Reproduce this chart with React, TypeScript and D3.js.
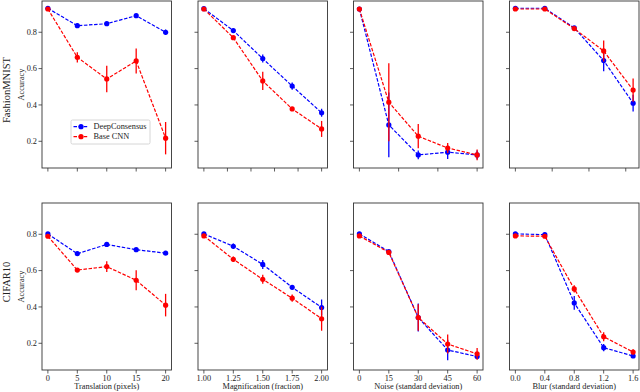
import React from "react";
import * as d3 from "d3";

// ---------- data ----------
const translationX = [0, 5, 10, 15, 20];
const magnificationX = [1.0, 1.25, 1.5, 1.75, 2.0];
const noiseX = [0, 15, 30, 45, 60];
const blurX = [0.0, 0.4, 0.8, 1.2, 1.6];

const seriesNames = ["DeepConsensus", "Base CNN"];
const datasetNames = ["FashionMNIST", "CIFAR10"];
const xLabels = ["Translation (pixels)", "Magnification (fraction)", "Noise (standard deviation)", "Blur (standard deviation)"];

// FashionMNIST
const fmTransDC = [0.932, 0.836, 0.847, 0.891, 0.8];
const fmTransDCErr = [0.006, 0.012, 0.01, 0.008, 0.015];
const fmTransCNN = [0.928, 0.662, 0.543, 0.642, 0.217];
const fmTransCNNErr = [0.006, 0.028, 0.073, 0.069, 0.089];
const fmMagDC = [0.93, 0.809, 0.655, 0.504, 0.357];
const fmMagDCErr = [0.005, 0.01, 0.022, 0.02, 0.022];
const fmMagCNN = [0.928, 0.77, 0.532, 0.378, 0.268];
const fmMagCNNErr = [0.005, 0.01, 0.05, 0.01, 0.044];
const fmNoiseDC = [0.928, 0.29, 0.125, 0.14, 0.125];
const fmNoiseDCErr = [0.005, 0.178, 0.024, 0.037, 0.024];
const fmNoiseCNN = [0.928, 0.415, 0.228, 0.163, 0.125];
const fmNoiseCNNErr = [0.005, 0.215, 0.067, 0.028, 0.03];
const fmBlurDC = [0.932, 0.932, 0.824, 0.644, 0.41];
const fmBlurDCErr = [0.004, 0.004, 0.01, 0.058, 0.046];
const fmBlurCNN = [0.928, 0.928, 0.82, 0.697, 0.482];
const fmBlurCNNErr = [0.004, 0.004, 0.012, 0.058, 0.064];

// CIFAR10
const cfTransDC = [0.802, 0.693, 0.744, 0.715, 0.696];
const cfTransDCErr = [0.006, 0.012, 0.008, 0.008, 0.006];
const cfTransCNN = [0.789, 0.603, 0.622, 0.547, 0.41];
const cfTransCNNErr = [0.006, 0.01, 0.03, 0.055, 0.062];
const cfMagDC = [0.802, 0.734, 0.634, 0.508, 0.397];
const cfMagDCErr = [0.006, 0.015, 0.025, 0.012, 0.044];
const cfMagCNN = [0.791, 0.662, 0.552, 0.448, 0.335];
const cfMagCNNErr = [0.006, 0.015, 0.025, 0.02, 0.066];
const cfNoiseDC = [0.802, 0.705, 0.342, 0.163, 0.127];
const cfNoiseDCErr = [0.005, 0.008, 0.077, 0.057, 0.01];
const cfNoiseCNN = [0.791, 0.7, 0.342, 0.196, 0.142];
const cfNoiseCNNErr = [0.005, 0.008, 0.073, 0.052, 0.032];
const cfBlurDC = [0.802, 0.798, 0.422, 0.176, 0.13];
const cfBlurDCErr = [0.005, 0.005, 0.038, 0.02, 0.01];
const cfBlurCNN = [0.791, 0.789, 0.499, 0.236, 0.152];
const cfBlurCNNErr = [0.005, 0.005, 0.02, 0.025, 0.015];

// ticks
const yTicks = [0.2, 0.4, 0.6, 0.8];
const topTicks = [
  [0, 5, 10, 15, 20],
  [1.0, 1.2, 1.4, 1.6, 1.8, 2.0],
  [0, 20, 40, 60],
  [0, 0.5, 1.0, 1.5],
];
const bottomTickLabels = [
  ["0", "5", "10", "15", "20"],
  ["1.00", "1.25", "1.50", "1.75", "2.00"],
  ["0", "15", "30", "45", "60"],
  ["0.0", "0.4", "0.8", "1.2", "1.6"],
];

const xs = [translationX, magnificationX, noiseX, blurX];
const xDomains: [number, number][] = [[-1, 21], [0.95, 2.05], [-3, 63], [-0.08, 1.68]];
const yDomain: [number, number] = [0.053, 0.972];

const rows = [
  [
    [[fmTransDC, fmTransDCErr], [fmTransCNN, fmTransCNNErr]],
    [[fmMagDC, fmMagDCErr], [fmMagCNN, fmMagCNNErr]],
    [[fmNoiseDC, fmNoiseDCErr], [fmNoiseCNN, fmNoiseCNNErr]],
    [[fmBlurDC, fmBlurDCErr], [fmBlurCNN, fmBlurCNNErr]],
  ],
  [
    [[cfTransDC, cfTransDCErr], [cfTransCNN, cfTransCNNErr]],
    [[cfMagDC, cfMagDCErr], [cfMagCNN, cfMagCNNErr]],
    [[cfNoiseDC, cfNoiseDCErr], [cfNoiseCNN, cfNoiseCNNErr]],
    [[cfBlurDC, cfBlurDCErr], [cfBlurCNN, cfBlurCNNErr]],
  ],
];

// ---------- layout ----------
const W = 640;
const H = 392;
const colors = ["#0000ff", "#ff0000"];
const FONT = "'Liberation Serif', 'Times New Roman', serif";
const panelLefts = [42, 198, 353.5, 509.5];
const panelW = 129.5;
const rowTops = [1, 203];
const panelH = 167;
const frame = "#333333";

function Panel({ r, c }: { r: number; c: number }) {
  const x0 = panelLefts[c];
  const y0 = rowTops[r];
  const x = d3.scaleLinear().domain(xDomains[c]).range([x0, x0 + panelW]);
  const y = d3.scaleLinear().domain(yDomain).range([y0 + panelH, y0]);
  const xv = xs[c];
  const series = rows[r][c];
  const line = d3
    .line<number>()
    .x((_, i) => x(xv[i]))
    .y((d) => y(d));
  const ticksX = r === 0 ? topTicks[c] : xv;
  const yb = y0 + panelH;
  return (
    <g>
      {/* ticks */}
      {ticksX.map((t, i) => (
        <g key={"xt" + i}>
          <line x1={x(t)} x2={x(t)} y1={yb} y2={yb + 3.5} stroke={frame} strokeWidth={0.8} />
          {r === 1 && (
            <text x={x(t)} y={yb + 11} textAnchor="middle" fontSize={8.3} fontFamily={FONT} fill="#222">
              {bottomTickLabels[c][i]}
            </text>
          )}
        </g>
      ))}
      {yTicks.map((t, i) => (
        <g key={"yt" + i}>
          <line x1={x0 - 3.5} x2={x0} y1={y(t)} y2={y(t)} stroke={frame} strokeWidth={0.8} />
          {c === 0 && (
            <text x={x0 - 5} y={y(t)} dy="0.33em" textAnchor="end" fontSize={8.3} fontFamily={FONT} fill="#222">
              {d3.format(".1f")(t)}
            </text>
          )}
        </g>
      ))}
      {/* series */}
      {series.map(([vals, errs], s) => (
        <g key={"s" + s}>
          <path d={line(vals) || ""} fill="none" stroke={colors[s]} strokeWidth={1.2} strokeDasharray="3.5,1.6" />
          {vals.map((v, i) => (
            <line
              key={"e" + i}
              x1={x(xv[i])}
              x2={x(xv[i])}
              y1={y(v - errs[i])}
              y2={y(v + errs[i])}
              stroke={colors[s]}
              strokeWidth={1.3}
            />
          ))}
          {vals.map((v, i) => (
            <circle key={"m" + i} cx={x(xv[i])} cy={y(v)} r={2.6} fill={colors[s]} />
          ))}
        </g>
      ))}
      {/* frame */}
      <rect x={x0} y={y0} width={panelW} height={panelH} fill="none" stroke={frame} strokeWidth={0.9} />
      {r === 1 && (
        <text x={x0 + panelW / 2} y={H - 3} textAnchor="middle" fontSize={8.3} fontFamily={FONT} fill="#222">
          {xLabels[c]}
        </text>
      )}
      {c === 0 && r === 0 && <Legend x0={71} y0={120} />}
    </g>
  );
}

function Legend({ x0, y0 }: { x0: number; y0: number }) {
  return (
    <g>
      <rect x={x0} y={y0} width={79} height={24} fill="#fff" fillOpacity={0.8} stroke="#cccccc" strokeWidth={0.8} rx={1.5} />
      {seriesNames.map((name, i) => {
        const yy = y0 + 6.7 + i * 10;
        return (
          <g key={name}>
            <line x1={x0 + 2.5} x2={x0 + 17.5} y1={yy} y2={yy} stroke={colors[i]} strokeWidth={1.2} strokeDasharray="3.5,1.6" />
            <circle cx={x0 + 10} cy={yy} r={2.6} fill={colors[i]} />
            <text x={x0 + 22.5} y={yy} dy="0.33em" fontSize={8.3} fontFamily={FONT} fill="#222">
              {name}
            </text>
          </g>
        );
      })}
    </g>
  );
}

export default function App() {
  const rowCenters = [90, 282];
  const accCenters = [rowTops[0] + panelH / 2, rowTops[1] + panelH / 2];
  return (
    <svg width={W} height={H} style={{ position: "absolute", left: 0, top: 0, background: "#fff" }}>
      <rect width={W} height={H} fill="#fff" />
      {[0, 1].map((r) => (
        <g key={"row" + r}>
          <text
            transform={`translate(9.5,${rowCenters[r]}) rotate(-90)`}
            textAnchor="middle"
            fontSize={10.5}
            fontFamily={FONT}
            fill="#222"
          >
            {datasetNames[r]}
          </text>
          <text
            transform={`translate(24,${accCenters[r]}) rotate(-90)`}
            textAnchor="middle"
            fontSize={8.3}
            fontFamily={FONT}
            fill="#222"
          >
            Accuracy
          </text>
          {[0, 1, 2, 3].map((c) => (
            <Panel key={"p" + c} r={r} c={c} />
          ))}
        </g>
      ))}
    </svg>
  );
}
